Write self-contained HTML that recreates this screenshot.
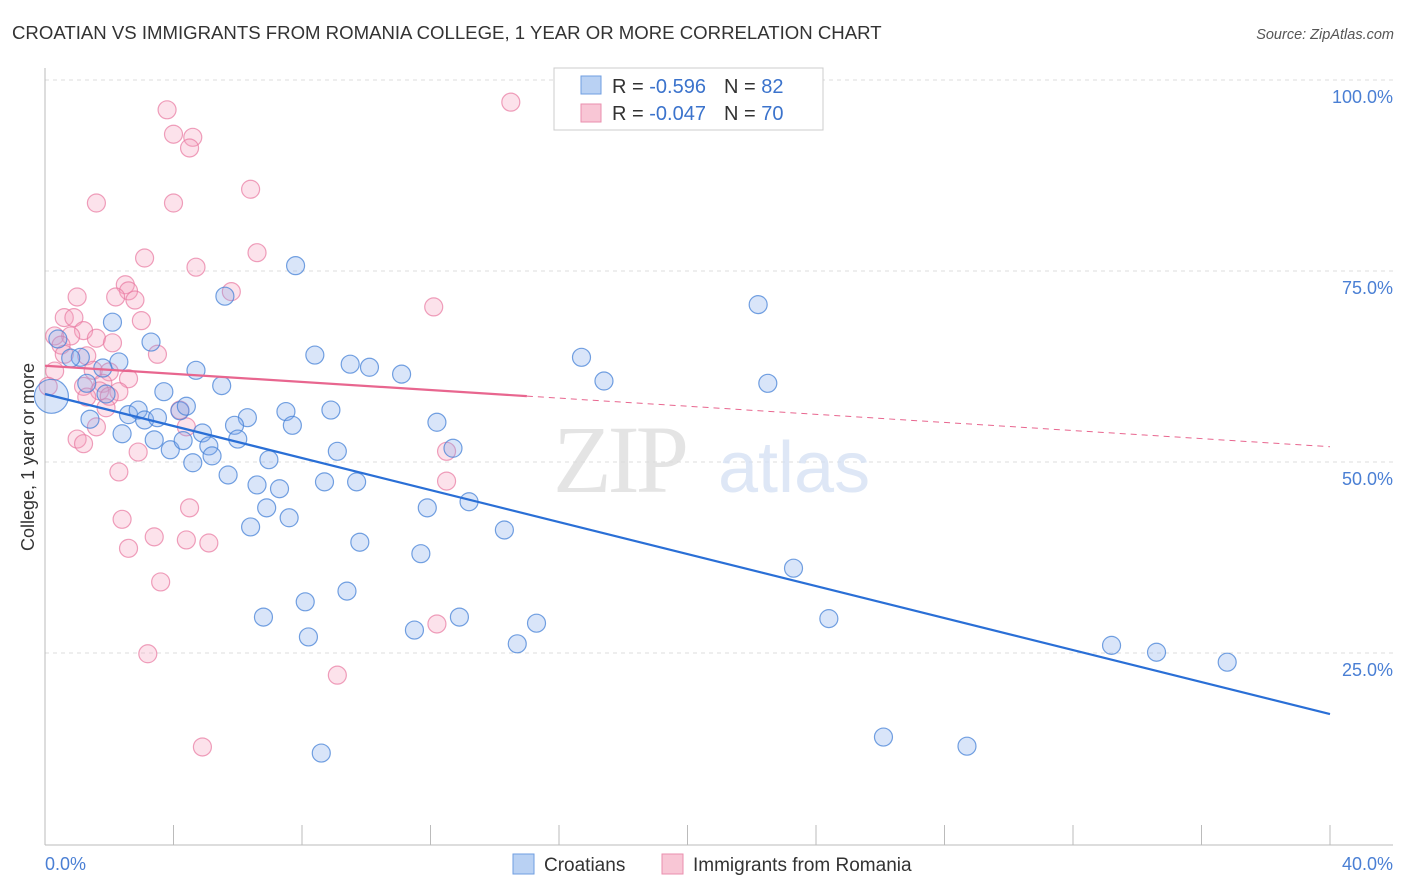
<!DOCTYPE html>
<html><head><meta charset="utf-8"><style>
body{margin:0;background:#fff;font-family:"Liberation Sans",sans-serif;}
svg{display:block}
</style></head><body>
<svg id="chart" width="1406" height="892" viewBox="0 0 1406 892">
<text x="12" y="39" font-size="18.6" fill="#333">CROATIAN VS IMMIGRANTS FROM ROMANIA COLLEGE, 1 YEAR OR MORE CORRELATION CHART</text>
<text x="1394" y="39" font-size="14.5" fill="#555" font-style="italic" text-anchor="end">Source: ZipAtlas.com</text>
<g id="grid"></g>
<g opacity="0.75">
<text x="553" y="492" font-family="Liberation Serif,serif" font-size="96" fill="#dcdcdc" letter-spacing="-4">ZIP</text>
<text x="718" y="492" font-size="72" fill="#d3e0f3">atlas</text>
</g>
<g id="axes"></g>
<g id="pts-pink"></g>
<g id="pts-blue"></g>
<g id="trends"></g>
<text transform="translate(34,457) rotate(-90)" font-size="18" fill="#333" text-anchor="middle">College, 1 year or more</text>
<g>
<rect x="554" y="68" width="269" height="62" fill="#fff" stroke="#ccc"/>
<rect x="581" y="76" width="20" height="18" fill="#b9d1f3" stroke="#6f9ee0"/>
<rect x="581" y="104" width="20" height="18" fill="#f8c6d5" stroke="#ea8fae"/>
<text x="612" y="93" font-size="20" fill="#333">R = <tspan fill="#3b73cc">-0.596</tspan><tspan dx="18">N = </tspan><tspan fill="#3b73cc">82</tspan></text>
<text x="612" y="120" font-size="20" fill="#333">R = <tspan fill="#3b73cc">-0.047</tspan><tspan dx="18">N = </tspan><tspan fill="#3b73cc">70</tspan></text>
</g>
<g>
<rect x="513" y="854" width="21" height="20" fill="#b9d1f3" stroke="#6f9ee0"/>
<text x="544" y="871" font-size="19" fill="#333">Croatians</text>
<rect x="662" y="854" width="21" height="20" fill="#f8c6d5" stroke="#ea8fae"/>
<text x="693" y="871" font-size="19" fill="#333">Immigrants from Romania</text>
</g>
</svg>
<script>
const blueX=[0.2,7.8,5.6,2.1,3.3,0.4,1.1,0.8,2.3,1.8,4.7,8.4,9.5,10.1,11.1,16.7,17.4,22.2,22.5,1.3,1.9,3.7,5.5,1.4,2.6,2.9,3.1,3.5,4.2,4.4,6.3,7.5,8.9,7.7,5.9,12.2,2.4,3.4,4.9,6.0,3.9,5.1,4.3,5.2,6.97,9.1,12.7,4.6,5.7,6.6,7.3,8.7,9.7,6.9,7.6,11.9,13.2,14.3,6.4,9.8,11.7,23.3,9.4,8.1,6.8,12.9,15.3,11.5,24.4,8.2,14.7,33.2,34.6,36.8,26.1,28.7,8.6];
const blueY=[58.6,75.7,71.7,68.3,65.7,66.1,63.7,63.6,63.1,62.3,62.0,64.0,62.8,62.4,61.5,63.7,60.6,70.6,60.3,60.3,58.9,59.2,60.0,55.6,56.2,56.8,55.5,55.8,56.7,57.3,55.8,56.6,56.8,54.8,54.8,55.2,53.7,52.9,53.8,53.0,51.6,52.1,52.8,50.8,50.3,51.4,51.8,49.9,48.3,47.0,46.5,47.4,47.4,44.0,42.7,44.0,44.8,41.1,41.5,39.5,38.0,36.1,33.1,31.7,29.7,29.7,28.9,28.0,29.5,27.1,26.2,26.0,25.1,23.8,14.0,12.8,11.9];
const pinkX=[3.8,14.5,4.0,4.6,4.5,6.4,1.6,4.0,6.6,3.1,4.7,2.5,2.6,5.8,1.0,2.2,2.8,12.1,0.6,0.9,3.0,1.2,0.3,0.8,1.6,0.5,2.1,3.5,0.6,1.3,0.3,1.5,2.0,2.6,1.8,1.2,1.7,2.3,1.3,2.0,0.1,1.9,4.2,4.4,1.6,1.0,1.2,2.9,12.5,2.3,12.5,4.5,2.4,3.4,4.4,5.1,2.6,3.6,12.2,3.2,9.1,4.9];
const pinkY=[96.1,97.1,92.9,92.5,91.1,85.7,83.9,83.9,77.4,76.7,75.5,73.2,72.4,72.3,71.6,71.6,71.2,70.3,68.9,68.9,68.5,67.2,66.5,66.5,66.2,65.3,65.6,64.1,64.1,63.9,61.9,62.0,61.8,60.9,60.3,59.9,59.3,59.2,58.5,58.6,59.9,57.1,56.8,54.6,54.6,53.0,52.4,51.3,51.4,48.7,47.5,44.0,42.5,40.2,39.8,39.4,38.7,34.3,28.8,24.9,22.1,12.7];
const yTicks=[25,50,75,100];
const yTickLabels=["25.0%","50.0%","75.0%","100.0%"];
const xTicks=[0,4,8,12,16,20,24,28,32,36,40];
const blueTrend=[58.9,17.0];
const pinkTrend=[62.6,52.0];
const pinkSolidEnd=15;

const NS="http://www.w3.org/2000/svg";
const sx=v=>45+v/40*1285;
const sy=v=>844-v/100*764;
function mk(tag,attrs,parent){const e=document.createElementNS(NS,tag);for(const k in attrs)e.setAttribute(k,attrs[k]);parent.appendChild(e);return e;}
const grid=document.getElementById('grid'),axes=document.getElementById('axes');
yTicks.forEach((t,i)=>{
  const l=mk('line',{x1:45,x2:1393,y1:sy(t),y2:sy(t),stroke:'#ddd','stroke-dasharray':'4,4'},grid);
  
  
  const tx=mk('text',{x:1393,y:sy(t)+23,'font-size':18,fill:'#4a7fd4','text-anchor':'end'},axes);
  tx.textContent=yTickLabels[i];
  
  
});
const ax=mk('line',{x1:45,x2:1393,y1:845,y2:845,stroke:'#bbb'},axes);


const ay=mk('line',{x1:45,x2:45,y1:68,y2:845,stroke:'#bbb'},axes);


xTicks.forEach(t=>{
  const k=mk('line',{x1:sx(t),x2:sx(t),y1:825,y2:845,stroke:'#bbb'},axes);
  
  
});
const x0=mk('text',{x:45,y:870,'font-size':18,fill:'#4a7fd4'},axes);x0.textContent='0.0%';


const x1=mk('text',{x:1393,y:870,'font-size':18,fill:'#4a7fd4','text-anchor':'end'},axes);x1.textContent='40.0%';



const gp=document.getElementById('pts-pink'),gb=document.getElementById('pts-blue');
pinkX.forEach((x,i)=>{
  const c=mk('circle',{cx:sx(x),cy:sy(pinkY[i]),r:9,fill:'rgba(244,160,190,0.3)',stroke:'rgba(232,120,160,0.7)','stroke-width':1.2},gp);
  
  
});
blueX.forEach((x,i)=>{
  const c=mk('circle',{cx:sx(x),cy:sy(blueY[i]),r:i===0?17:9,fill:'rgba(130,170,235,0.3)',stroke:'rgba(70,130,215,0.75)','stroke-width':1.2},gb);
  
  
});
const tr=document.getElementById('trends');
const bl=mk('line',{x1:sx(0),y1:sy(blueTrend[0]),x2:sx(40),y2:sy(blueTrend[1]),stroke:'#2a6fd6','stroke-width':2.2},tr);


const pm=pinkTrend[0]+(pinkTrend[1]-pinkTrend[0])*pinkSolidEnd/40;
const pl=mk('line',{x1:sx(0),y1:sy(pinkTrend[0]),x2:sx(pinkSolidEnd),y2:sy(pm),stroke:'#e8668f','stroke-width':2.2},tr);


const pd=mk('line',{x1:sx(pinkSolidEnd),y1:sy(pm),x2:sx(40),y2:sy(pinkTrend[1]),stroke:'#e8668f','stroke-width':1,'stroke-dasharray':'6,5'},tr);


</script>
</body></html>
